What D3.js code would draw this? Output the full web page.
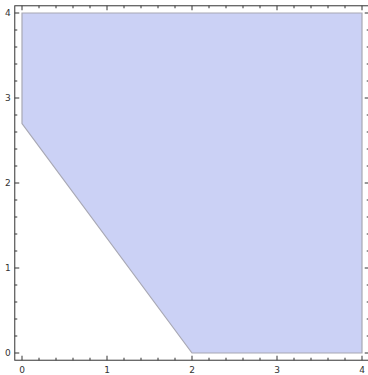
<!DOCTYPE html>
<html>
<head>
<meta charset="utf-8">
<script src="https://cdn.jsdelivr.net/npm/d3@7"></script>
<style>
  html, body { margin: 0; padding: 0; background: #fff; }
  svg { display: block; }
</style>
</head>
<body>
<script>
// region boundary (x, y) in data units
const regionX = [0, 0, 4, 4, 2];
const regionY = [2.7, 4, 4, 0, 0];
const xTicks = [0, 1, 2, 3, 4];
const yTicks = [0, 1, 2, 3, 4];

const width = 368, height = 375;
const pad = 0.085; // plot range padding, data units

const x = d3.scaleLinear().domain([0, 4]).range([22, 362]);
const y = d3.scaleLinear().domain([0, 4]).range([353, 13]);

const svg = d3.select("body").append("svg")
	.attr("width", width)
	.attr("height", height)
	.attr("font-family", "Tahoma, 'DejaVu Sans', sans-serif");

// filled region
const pts = regionX.map((d, i) => [x(d), y(regionY[i])]);
svg.append("path")
	.attr("d", d3.line()(pts) + "Z")
	.attr("fill", "#cbd1f5")
	.attr("stroke", "none");

// boundary edges (drawn as grey lines)
svg.append("path")
	.attr("d", d3.line()(pts) + "Z")
	.attr("fill", "none")
	.attr("stroke", "#a8a8b4")
	.attr("stroke-width", 1.2);

// frame
const fx0 = x(-pad), fx1 = x(4 + pad), fy0 = y(4 + pad), fy1 = y(-pad);
const minor = d3.range(0, 4.001, 0.2).map((d) => +d.toFixed(1));
const isMajor = (d) => Math.abs(d - Math.round(d)) < 1e-6;

const frame = svg.append("g").attr("stroke", "#333").attr("stroke-width", 1);
frame.append("rect")
	.attr("x", fx0).attr("y", fy0)
	.attr("width", fx1 - fx0).attr("height", fy1 - fy0)
	.attr("fill", "none");

// ticks on all four sides, pointing inward
frame.selectAll(".tb").data(minor).join("line")
	.attr("x1", (d) => x(d)).attr("x2", (d) => x(d))
	.attr("y1", fy1).attr("y2", (d) => fy1 - (isMajor(d) ? 4.5 : 2.5));
frame.selectAll(".tt").data(minor).join("line")
	.attr("x1", (d) => x(d)).attr("x2", (d) => x(d))
	.attr("y1", fy0).attr("y2", (d) => fy0 + (isMajor(d) ? 4.5 : 2.5));
frame.selectAll(".tl").data(minor).join("line")
	.attr("y1", (d) => y(d)).attr("y2", (d) => y(d))
	.attr("x1", fx0).attr("x2", (d) => fx0 + (isMajor(d) ? 4.5 : 2.5));
frame.selectAll(".tr").data(minor).join("line")
	.attr("y1", (d) => y(d)).attr("y2", (d) => y(d))
	.attr("x1", fx1).attr("x2", (d) => fx1 - (isMajor(d) ? 4.5 : 2.5));

// tick labels
svg.append("g").selectAll("text").data(xTicks).join("text")
	.attr("x", (d) => x(d))
	.attr("y", fy1 + 13)
	.attr("text-anchor", "middle")
	.attr("font-size", 9)
	.attr("fill", "#333")
	.text((d) => d);

svg.append("g").selectAll("text").data(yTicks).join("text")
	.attr("x", fx0 - 4)
	.attr("y", (d) => y(d))
	.attr("dy", "0.35em")
	.attr("text-anchor", "end")
	.attr("font-size", 9)
	.attr("fill", "#333")
	.text((d) => d);
</script>
</body>
</html>
